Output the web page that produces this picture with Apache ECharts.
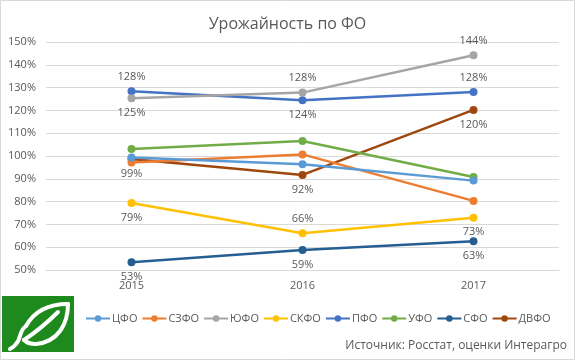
<!DOCTYPE html>
<html><head><meta charset="utf-8">
<script src="https://cdn.jsdelivr.net/npm/echarts@6/dist/echarts.min.js"></script>
<style>html,body{margin:0;padding:0;background:#fff}#c{width:575px;height:360px}</style>
</head><body><div id="c"></div>
<script>
const categories = ['2015', '2016', '2017'];
const seriesNames = ['ЦФО', 'СЗФО', 'ЮФО', 'СКФО', 'ПФО', 'УФО', 'СФО', 'ДВФО'];
const cfo   = [99.3, 96.4, 89.2];
const szfo  = [97.1, 100.7, 80.3];
const yufo  = [125.3, 127.8, 144.2];
const skfo  = [79.4, 66.1, 72.9];
const pfo   = [128.4, 124.4, 128.1];
const ufo   = [103.1, 106.6, 90.8];
const sfo   = [53.4, 58.8, 62.6];
const dvfo  = [98.7, 91.7, 120.2];
const yTicks = [50, 60, 70, 80, 90, 100, 110, 120, 130, 140, 150];

const values = [cfo, szfo, yufo, skfo, pfo, ufo, sfo, dvfo];
const colors = ['#5B9BD5', '#ED7D31', '#A5A5A5', '#FFC000', '#4472C4', '#70AD47', '#255E91', '#9E480E'];
const labelPos = [null, null, ['bottom', 'top', 'top'], ['bottom', 'top', 'bottom'], ['top', 'bottom', 'top'], null, ['bottom', 'bottom', 'bottom'], ['bottom', 'bottom', 'bottom']];

const txt = '#595959';
const font = 'Open Sans, sans-serif';
const chart = echarts.init(document.getElementById('c'));
const series = seriesNames.map((n, i) => ({
  name: n, type: 'line', symbol: 'circle', symbolSize: 8,
  lineStyle: { width: 2.5, color: colors[i] },
  itemStyle: { color: colors[i] },
  z: 10 - i,
  data: values[i].map((v, j) => {
    const o = { value: v };
    if (labelPos[i]) o.label = { show: true, position: labelPos[i][j], distance: 5,
      formatter: p => Math.round(p.value) + '%', color: txt, fontSize: 11, fontFamily: font };
    return o;
  })
}));
const leaf = [
  [24, 30, 34, 12, 52, 8, 66, 8],
  [66, 8, 66, 28, 56, 46, 34, 48],
  [34, 48, 28, 48, 24, 46, 22, 44],
  [22, 44, 34, 36, 46, 26, 56, 16],
  [24, 30, 16, 36, 20, 42, 14, 48],
  [14, 48, 12, 51, 10, 52, 8, 53]
].map(c => ({ type: 'bezierCurve', x: 2, y: 296,
  shape: { x1: c[0], y1: c[1], cpx1: c[2], cpy1: c[3], cpx2: c[4], cpy2: c[5], x2: c[6], y2: c[7] },
  style: { fill: null, stroke: '#fff', lineWidth: 4, lineCap: 'round' }, z: 100 }));
chart.setOption({
  animation: false,
  backgroundColor: '#fff',
  title: { text: 'Урожайность по ФО', left: 'center', top: 11,
    textStyle: { color: txt, fontSize: 16, fontWeight: 'normal', fontFamily: font } },
  grid: { left: 46, right: 16, top: 42, bottom: 90, containLabel: false },
  legend: { data: seriesNames, left: 80, top: 308, width: 490, itemWidth: 24, itemHeight: 8, itemGap: 4,
    textStyle: { color: txt, fontSize: 11, fontFamily: font, padding: [0, 0, 0, -3] } },
  xAxis: { type: 'category', data: categories, boundaryGap: true,
    axisLine: { show: true, lineStyle: { color: '#D9D9D9' } }, axisTick: { show: false },
    axisLabel: { color: txt, fontSize: 11, fontFamily: font, margin: 10 } },
  yAxis: { type: 'value', min: yTicks[0], max: yTicks[yTicks.length - 1], interval: 10,
    axisLine: { show: false }, axisTick: { show: false },
    splitLine: { lineStyle: { color: '#D9D9D9' } },
    axisLabel: { color: txt, fontSize: 11, fontFamily: font, margin: 10, formatter: '{value}%' } },
  series: series,
  graphic: [
    { type: 'rect', shape: { x: 0.5, y: 0.5, width: 574, height: 359 }, style: { fill: null, stroke: '#D9D9D9', lineWidth: 1 }, silent: true },
    { type: 'rect', shape: { x: 2, y: 296, width: 72, height: 56 }, style: { fill: '#1E8A1E' }, z: 99 }
  ].concat(leaf).concat([
    { type: 'text', right: 8, top: 340, style: { text: 'Источник: Росстат, оценки Интерагро', fill: txt, fontSize: 12, fontFamily: font } }
  ])
});
</script></body></html>
